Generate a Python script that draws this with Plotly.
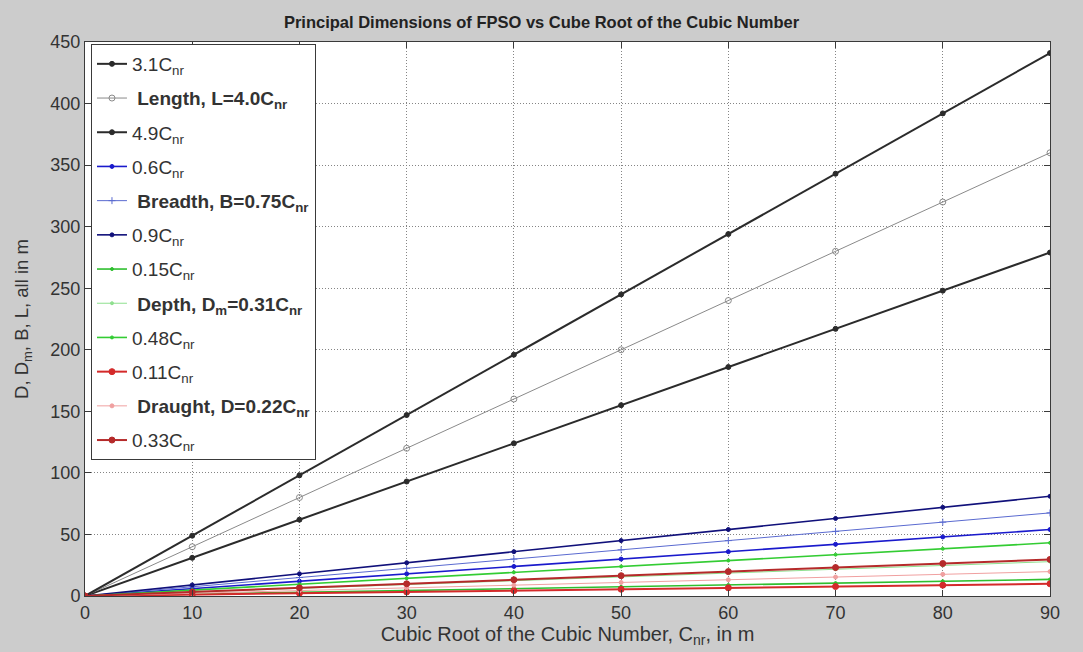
import plotly.graph_objects as go

# Cube root of the cubic number, C_nr (m)
c_nr = [0, 10, 20, 30, 40, 50, 60, 70, 80, 90]

# Principal dimensions (m) for each proportionality factor
len_31 = [0, 31, 62, 93, 124, 155, 186, 217, 248, 279]
len_40 = [0, 40, 80, 120, 160, 200, 240, 280, 320, 360]
len_49 = [0, 49, 98, 147, 196, 245, 294, 343, 392, 441]
br_060 = [0, 6, 12, 18, 24, 30, 36, 42, 48, 54]
br_075 = [0, 7.5, 15, 22.5, 30, 37.5, 45, 52.5, 60, 67.5]
br_090 = [0, 9, 18, 27, 36, 45, 54, 63, 72, 81]
dp_015 = [0, 1.5, 3, 4.5, 6, 7.5, 9, 10.5, 12, 13.5]
dp_031 = [0, 3.1, 6.2, 9.3, 12.4, 15.5, 18.6, 21.7, 24.8, 27.9]
dp_048 = [0, 4.8, 9.6, 14.4, 19.2, 24, 28.8, 33.6, 38.4, 43.2]
dr_011 = [0, 1.1, 2.2, 3.3, 4.4, 5.5, 6.6, 7.7, 8.8, 9.9]
dr_022 = [0, 2.2, 4.4, 6.6, 8.8, 11, 13.2, 15.4, 17.6, 19.8]
dr_033 = [0, 3.3, 6.6, 9.9, 13.2, 16.5, 19.8, 23.1, 26.4, 29.7]

y_ticks = [0, 50, 100, 150, 200, 250, 300, 350, 400, 450]

labels = [
    "3.1C<sub>nr</sub>",
    "&nbsp;<b>Length, L=4.0C<sub>nr</sub></b>",
    "4.9C<sub>nr</sub>",
    "0.6C<sub>nr</sub>",
    "&nbsp;<b>Breadth, B=0.75C<sub>nr</sub></b>",
    "0.9C<sub>nr</sub>",
    "0.15C<sub>nr</sub>",
    "&nbsp;<b>Depth, D<sub>m</sub>=0.31C<sub>nr</sub></b>",
    "0.48C<sub>nr</sub>",
    "0.11C<sub>nr</sub>",
    "&nbsp;<b>Draught, D=0.22C<sub>nr</sub></b>",
    "0.33C<sub>nr</sub>",
]
series = [len_31, len_40, len_49, br_060, br_075, br_090,
          dp_015, dp_031, dp_048, dr_011, dr_022, dr_033]

# (line colour, line width, marker symbol, marker size)
styles = [
    ("#2b2b2b", 2.0, "circle", 5),
    ("#8a8a8a", 1.0, "circle-open", 6),
    ("#2b2b2b", 2.0, "circle", 5),
    ("#1a1acc", 1.6, "circle", 4),
    ("#5a6ad0", 1.0, "cross-thin", 5),
    ("#10107a", 1.6, "circle", 4),
    ("#2fbf2f", 1.6, "circle", 3),
    ("#8fe08f", 1.0, "circle", 3),
    ("#33cc33", 1.6, "circle", 3),
    ("#d42a2a", 2.0, "circle", 6),
    ("#f0a0a0", 1.0, "circle", 4),
    ("#b52a2a", 2.0, "circle", 6),
]

fig = go.Figure()
for i, (name, ys, st) in enumerate(zip(labels, series, styles)):
    color, lw, sym, ms = st
    fig.add_trace(go.Scatter(
        x=c_nr, y=ys, name=name, mode="lines+markers",
        legendgroup=f"g{i}",
        line=dict(color=color, width=lw),
        marker=dict(symbol=sym, size=ms, color=color,
                    line=dict(color=color, width=1)),
    ))

font_family = "Liberation Sans, Arial, sans-serif"
axis_common = dict(
    showline=True, linecolor="#3a3a3a", linewidth=1, mirror="ticks",
    ticks="inside", ticklen=6, tickcolor="#3a3a3a",
    showgrid=True, gridcolor="#858585", griddash="1px,2px", gridwidth=1,
    zeroline=False,
    tickfont=dict(family=font_family, size=18, color="#333333"),
)

fig.update_layout(
    width=1083, height=652,
    margin=dict(l=85, r=33, t=42, b=56),
    paper_bgcolor="#cccccc", plot_bgcolor="#ffffff",
    font=dict(family=font_family, color="#333333"),
    title=dict(
        text="<b>Principal Dimensions of FPSO vs Cube Root of the Cubic Number</b>",
        xref="container", x=0.5, xanchor="center",
        yref="container", y=0.966, yanchor="middle",
        font=dict(family=font_family, size=16.5, color="#222222"),
    ),
    xaxis=dict(
        range=[0, 90], tickvals=c_nr,
        title=dict(text="Cubic Root of the Cubic Number, C<sub>nr</sub>, in m",
                   font=dict(family=font_family, size=20, color="#333333"),
                   standoff=2),
        **axis_common,
    ),
    yaxis=dict(
        range=[0, 450], tickvals=y_ticks,
        title=dict(text="D, D<sub>m</sub>, B, L, all in m",
                   font=dict(family=font_family, size=18.5, color="#333333"),
                   standoff=16),
        **axis_common,
    ),
    legend=dict(
        x=0.0062, y=0.9964, xanchor="left", yanchor="top",
        bgcolor="#ffffff", bordercolor="#3a3a3a", borderwidth=1,
        font=dict(family=font_family, size=19, color="#333333"),
        tracegroupgap=6.5, itemwidth=30,
    ),
    showlegend=True,
)

fig.write_html("out.html")
